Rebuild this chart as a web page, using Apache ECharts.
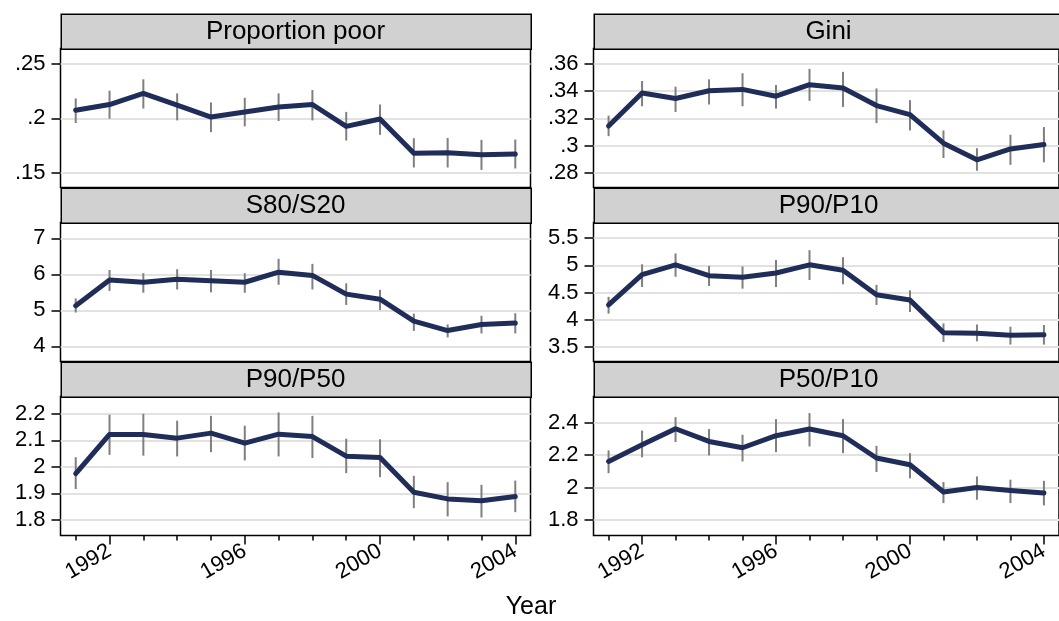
<!DOCTYPE html>
<html>
<head>
<meta charset="utf-8">
<script src="https://cdn.jsdelivr.net/npm/echarts@6/dist/echarts.min.js"></script>
<style>
html,body{margin:0;padding:0;background:#fff;}
#chart{width:1059px;height:621px;}
</style>
</head>
<body>
<div id="chart"></div>
<script>
// ---------- data ----------
const years = [1991,1992,1993,1994,1995,1996,1997,1998,1999,2000,2001,2002,2003,2004];
const labelYears = [1992,1996,2000,2004];

const titles = ['Proportion poor','Gini','S80/S20','P90/P10','P90/P50','P50/P10'];

const povEst = [0.2074,0.2127,0.2229,0.2121,0.2012,0.2059,0.2105,0.2127,0.1926,0.1994,0.1678,0.1684,0.1665,0.1672];
const povLo  = [0.1957,0.1997,0.2090,0.1981,0.1873,0.1926,0.1975,0.1981,0.1796,0.1848,0.1548,0.1548,0.1526,0.1539];
const povHi  = [0.2183,0.2254,0.2359,0.2229,0.2146,0.2189,0.2229,0.2260,0.2059,0.2127,0.1817,0.1820,0.1802,0.1805];

const giniEst = [0.3143,0.3386,0.3346,0.3403,0.3413,0.3363,0.3448,0.3423,0.3294,0.3227,0.3017,0.2895,0.2975,0.3007];
const giniLo  = [0.3069,0.3289,0.3247,0.3302,0.3289,0.3272,0.3329,0.3284,0.3165,0.3111,0.2908,0.2814,0.2858,0.2876];
const giniHi  = [0.3220,0.3475,0.3433,0.3487,0.3532,0.3445,0.3564,0.3542,0.3420,0.3334,0.3111,0.2980,0.3079,0.3136];

const s8020Est = [5.13,5.84,5.78,5.86,5.82,5.78,6.06,5.97,5.45,5.31,4.70,4.44,4.61,4.65];
const s8020Lo  = [4.94,5.54,5.49,5.58,5.50,5.49,5.71,5.58,5.15,5.01,4.43,4.25,4.36,4.36];
const s8020Hi  = [5.33,6.12,6.03,6.14,6.12,6.03,6.43,6.29,5.75,5.57,4.91,4.61,4.85,4.92];

const p9010Est = [4.27,4.83,5.01,4.81,4.78,4.86,5.01,4.91,4.46,4.36,3.76,3.75,3.71,3.72];
const p9010Lo  = [4.11,4.60,4.79,4.62,4.57,4.60,4.73,4.65,4.27,4.14,3.59,3.60,3.54,3.54];
const p9010Hi  = [4.42,5.02,5.22,4.99,4.98,5.10,5.28,5.15,4.64,4.54,3.93,3.91,3.87,3.90];

const p9050Est = [1.974,2.122,2.122,2.108,2.127,2.089,2.123,2.114,2.040,2.035,1.904,1.879,1.872,1.888];
const p9050Lo  = [1.916,2.045,2.042,2.039,2.055,2.024,2.039,2.033,1.976,1.961,1.844,1.813,1.809,1.829];
const p9050Hi  = [2.036,2.196,2.200,2.174,2.192,2.155,2.205,2.192,2.106,2.104,1.966,1.942,1.932,1.948];

const p5010Est = [2.161,2.263,2.362,2.284,2.245,2.319,2.360,2.319,2.182,2.141,1.973,2.001,1.982,1.967];
const p5010Lo  = [2.089,2.186,2.280,2.198,2.161,2.218,2.253,2.212,2.096,2.057,1.905,1.926,1.905,1.891];
const p5010Hi  = [2.229,2.351,2.433,2.360,2.325,2.421,2.458,2.421,2.257,2.212,2.034,2.069,2.049,2.042];

// y tick labels per panel
const povTicks   = [0.15,0.2,0.25];
const giniTicks  = [0.28,0.3,0.32,0.34,0.36];
const s8020Ticks = [4,5,6,7];
const p9010Ticks = [3.5,4,4.5,5,5.5];
const p9050Ticks = [1.8,1.9,2,2.1,2.2];
const p5010Ticks = [1.8,2,2.2,2.4];

// y axis ranges per panel
const povRange   = [0.1364,0.2642];
const giniRange  = [0.2691,0.3714];
const s8020Range = [3.582,7.437];
const p9010Range = [3.228,5.79];
const p9050Range = [1.741,2.265];
const p5010Range = [1.706,2.56];
const xRange = [1990.55,2004.45];

const panels = [
  {est:povEst,lo:povLo,hi:povHi,ticks:povTicks,range:povRange},
  {est:giniEst,lo:giniLo,hi:giniHi,ticks:giniTicks,range:giniRange},
  {est:s8020Est,lo:s8020Lo,hi:s8020Hi,ticks:s8020Ticks,range:s8020Range},
  {est:p9010Est,lo:p9010Lo,hi:p9010Hi,ticks:p9010Ticks,range:p9010Range},
  {est:p9050Est,lo:p9050Lo,hi:p9050Hi,ticks:p9050Ticks,range:p9050Range},
  {est:p5010Est,lo:p5010Lo,hi:p5010Hi,ticks:p5010Ticks,range:p5010Range}
];

// ---------- layout ----------
const FONT = '"Liberation Sans", Arial, Helvetica, sans-serif';
const NAVY = '#1f2d58';
const colLeft = [60.5, 593.5];
const panelW = 470;
const rowHeaderTop = [13.5, 187.5, 361.5];
const headerH = 35;
const plotH = 139;

const grids = [], xAxes = [], yAxes = [], series = [], graphics = [];
const fmt = v => String(+(+v).toFixed(4)).replace(/^0\./, '.');

panels.forEach((p, i) => {
  const col = i % 2, row = Math.floor(i / 2);
  const left = colLeft[col];
  const hTop = rowHeaderTop[row];
  const pTop = hTop + headerH;
  const bottomRow = row === 2;
  grids.push({
    left: left, top: pTop, width: panelW, height: plotH,
    show: true, backgroundColor: '#fff', borderColor: '#000', borderWidth: 1.5,
    containLabel: false
  });
  xAxes.push({
    type: 'value', gridIndex: i, min: xRange[0], max: xRange[1], position: 'bottom',
    axisLine: {show: false},
    splitLine: {show: false},
    axisTick: {show: bottomRow, length: 9, customValues: labelYears,
               lineStyle: {color: '#000', width: 1.5}},
    axisLabel: {show: bottomRow, customValues: labelYears, rotate: 30, margin: 14,
                fontSize: 22, fontFamily: FONT, color: '#000', formatter: v => String(v)}
  });
  yAxes.push({
    type: 'value', gridIndex: i, min: p.range[0], max: p.range[1], position: 'left',
    axisLine: {show: false},
    axisTick: {show: true, length: 9, customValues: p.ticks,
               lineStyle: {color: '#000', width: 1.5}},
    axisLabel: {show: true, customValues: p.ticks, margin: 15, fontSize: 22,
                fontFamily: FONT, color: '#000', formatter: fmt},
    splitLine: {show: true, lineStyle: {color: '#e2e2e2', width: 2}}
  });
  const errData = years.map((y, k) => [y, p.lo[k], p.hi[k]]);
  series.push({
    type: 'custom', xAxisIndex: i, yAxisIndex: i, z: 3, silent: true,
    data: errData,
    renderItem: (params, api) => {
      const a = api.coord([api.value(0), api.value(1)]);
      const b = api.coord([api.value(0), api.value(2)]);
      return {type: 'line', shape: {x1: a[0], y1: a[1], x2: b[0], y2: b[1]},
              style: {stroke: '#7f7f7f', lineWidth: 2}};
    }
  });
  series.push({
    type: 'line', xAxisIndex: i, yAxisIndex: i, z: 5, silent: true,
    data: years.map((y, k) => [y, p.est[k]]),
    symbol: 'none', lineStyle: {color: NAVY, width: 5, join: 'round', cap: 'round'},
    itemStyle: {color: NAVY}
  });
  graphics.push({
    type: 'rect', left: left, top: hTop,
    shape: {width: panelW, height: headerH},
    style: {fill: '#d1d1d1', stroke: '#000', lineWidth: 1.5}, z: 10
  });
  graphics.push({
    type: 'text', x: left + panelW / 2, y: hTop + headerH / 2 + 1,
    style: {text: titles[i], fill: '#000', font: '26px ' + FONT,
            textAlign: 'center', textVerticalAlign: 'middle'}, z: 11
  });
});

// minor year ticks for bottom panels
[4, 5].forEach(i => {
  xAxes.push({
    type: 'value', gridIndex: i, min: xRange[0], max: xRange[1], position: 'bottom',
    axisLine: {show: false}, splitLine: {show: false},
    axisTick: {show: true, length: 5, customValues: years,
               lineStyle: {color: '#000', width: 1.5}},
    axisLabel: {show: false}
  });
});

graphics.push({
  type: 'text', x: 531, y: 607,
  style: {text: 'Year', fill: '#000', font: '25px ' + FONT,
          textAlign: 'center', textVerticalAlign: 'middle'}, z: 11
});

const chart = echarts.init(document.getElementById('chart'), null, {renderer: 'canvas'});
chart.setOption({
  animation: false,
  backgroundColor: '#fff',
  grid: grids,
  xAxis: xAxes,
  yAxis: yAxes,
  series: series,
  graphic: graphics
});
</script>
</body>
</html>
